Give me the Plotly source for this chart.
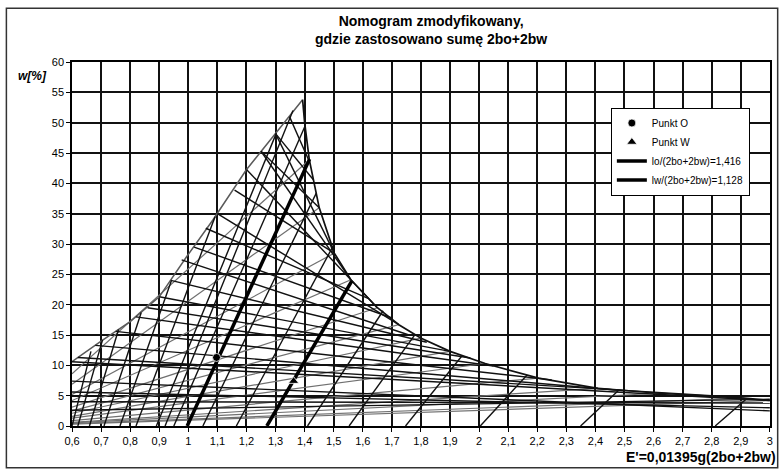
import plotly.graph_objects as go

# ---------------- data ----------------
x_tick_vals = [0.6, 0.7, 0.8, 0.9, 1.0, 1.1, 1.2, 1.3, 1.4, 1.5, 1.6, 1.7, 1.8, 1.9,
               2.0, 2.1, 2.2, 2.3, 2.4, 2.5, 2.6, 2.7, 2.8, 2.9, 3.0]
x_tick_text = ["0,6", "0,7", "0,8", "0,9", "1", "1,1", "1,2", "1,3", "1,4", "1,5", "1,6",
               "1,7", "1,8", "1,9", "2", "2,1", "2,2", "2,3", "2,4", "2,5", "2,6", "2,7",
               "2,8", "2,9", "3"]
y_tick_vals = [0, 5, 10, 15, 20, 25, 30, 35, 40, 45, 50, 55, 60]

# left envelope (grey)
left_env_x = [0.6, 0.7, 0.8, 0.9, 0.994, 1.085, 1.199, 1.302, 1.393]
left_env_y = [10.6, 14.0, 17.2, 21.3, 27.9, 34.0, 42.2, 48.3, 53.8]

# right envelope (black)
right_env_x = [1.393, 1.40, 1.416, 1.45, 1.502, 1.559, 1.65, 1.724, 1.799, 1.9,
               2.021, 2.204, 2.409, 2.62, 2.912, 3.0]
right_env_y = [53.8, 50.0, 43.9, 36.0, 28.5, 24.1, 19.5, 16.7, 14.5, 12.3,
               10.3, 7.9, 6.2, 5.4, 4.6, 4.2]

# steep rising lines (thin black): from bottom to an envelope
steep_x0 = [0.60, 0.62, 0.66, 0.71, 0.765, 0.82, 0.89, 0.92, 0.95, 1.05, 1.165, 1.41, 1.553, 1.747, 2.004, 2.349, 2.812]
steep_y0 = [0, 0, 0, 0, 0, 0, 0, 0, 0, 0, 0, 0, 0, 0, 0, 0, 0]
steep_x1 = [0.665, 0.705, 0.76, 0.838, 0.942, 1.092, 1.302, 1.36, 1.40, 1.44, 1.495, 1.67, 1.78, 1.94, 2.165, 2.48, 2.92]
steep_y1 = [12.3, 14.2, 15.9, 18.7, 24.0, 34.5, 48.2, 52.0, 49.3, 38.4, 29.4, 19.0, 15.1, 11.5, 8.4, 5.9, 4.5]

# falling lines (black): from left envelope / left edge to right envelope / right edge
fall_x0 = [1.348, 1.30, 1.30, 1.25, 1.25, 1.20, 1.159, 1.10, 1.06, 1.02, 0.977, 0.94, 0.90, 0.86,
           0.82, 0.75, 0.68, 0.62, 0.60, 0.60, 0.60, 0.60, 0.60]
fall_y0 = [51.0, 48.2, 48.2, 45.3, 45.3, 42.3, 38.9, 35.0, 32.6, 29.5, 27.4, 24.0, 21.3, 19.5,
           18.0, 15.6, 13.3, 11.3, 10.6, 7.4, 5.6, 4.0, 2.6]
fall_x1 = [1.416, 1.43, 1.502, 1.45, 1.559, 1.65, 1.502, 1.724, 1.62, 1.70, 1.759, 1.82, 1.90, 1.97,
           2.05, 2.25, 2.50, 2.80, 3.0, 3.0, 3.0, 3.0, 3.0]
fall_y1 = [43.6, 40.6, 28.5, 36.0, 24.1, 19.5, 28.5, 16.7, 21.0, 17.8, 15.0, 13.8, 12.3, 11.2,
           9.9, 7.6, 5.8, 5.0, 4.2, 2.5, 3.0, 3.8, 4.4]

# grey rising lines: from left edge to right envelope
grey_x0 = [0.6, 0.6, 0.6, 0.6, 0.6, 0.6, 0.6, 0.6, 0.6, 0.6, 0.6, 0.6, 0.6, 0.6]
grey_y0 = [8.6, 6.9, 5.2, 4.2, 3.1, 2.5, 2.1, 1.6, 1.3, 0.9, 0.6, 0.5, 0.4, 0.3]
grey_x1 = [1.416, 1.45, 1.502, 1.559, 1.65, 1.724, 1.799, 1.9, 2.021, 2.204, 2.409, 2.62, 2.912, 3.0]
grey_y1 = [43.9, 36.0, 28.5, 24.1, 19.5, 16.7, 14.5, 12.3, 10.3, 7.9, 6.2, 5.4, 4.6, 4.2]

# highlighted lines and points
lo_x = [0.996, 1.417]
lo_y = [0.0, 44.0]
lw_x = [1.27, 1.562]
lw_y = [0.0, 23.9]
punkt_o = (1.097, 11.3)
punkt_w = (1.362, 7.4)


def segs(x0, y0, x1, y1):
    xs, ys = [], []
    for a, b, c, d in zip(x0, y0, x1, y1):
        xs += [a, c, None]
        ys += [b, d, None]
    return xs, ys


fig = go.Figure()

gx, gy = segs(grey_x0, grey_y0, grey_x1, grey_y1)
fig.add_trace(go.Scatter(x=gx, y=gy, mode="lines", line=dict(color="#707070", width=1.2),
                         showlegend=False, hoverinfo="skip"))
fig.add_trace(go.Scatter(x=left_env_x, y=left_env_y, mode="lines",
                         line=dict(color="#5a5a5a", width=1.5), showlegend=False, hoverinfo="skip"))
sx, sy = segs(steep_x0, steep_y0, steep_x1, steep_y1)
fig.add_trace(go.Scatter(x=sx, y=sy, mode="lines", line=dict(color="#111111", width=1.4),
                         showlegend=False, hoverinfo="skip"))
fx, fy = segs(fall_x0, fall_y0, fall_x1, fall_y1)
fig.add_trace(go.Scatter(x=fx, y=fy, mode="lines", line=dict(color="#111111", width=1.4),
                         showlegend=False, hoverinfo="skip"))
fig.add_trace(go.Scatter(x=right_env_x, y=right_env_y, mode="lines",
                         line=dict(color="#111111", width=1.7), showlegend=False, hoverinfo="skip"))

fig.add_trace(go.Scatter(x=lo_x, y=lo_y, mode="lines", name="lo/(2bo+2bw)=1,416",
                         line=dict(color="black", width=3.5), legendrank=3))
fig.add_trace(go.Scatter(x=lw_x, y=lw_y, mode="lines", name="lw/(2bo+2bw)=1,128",
                         line=dict(color="black", width=3.5), legendrank=4))
fig.add_trace(go.Scatter(x=[punkt_o[0]], y=[punkt_o[1]], mode="markers", name="Punkt O",
                         marker=dict(symbol="circle", size=8, color="black",
                                     line=dict(color="white", width=0.8)), legendrank=1))
fig.add_trace(go.Scatter(x=[punkt_w[0]], y=[punkt_w[1]], mode="markers", name="Punkt W",
                         marker=dict(symbol="triangle-up", size=9, color="black",
                                     line=dict(color="white", width=0.8)), legendrank=2))

FONT = "Liberation Sans Narrow, Arial Narrow, Liberation Sans, Arial, sans-serif"

fig.update_layout(
    width=783, height=473,
    margin=dict(l=72, r=10, t=62, b=47),
    paper_bgcolor="white", plot_bgcolor="white",
    font=dict(family=FONT, size=11, color="black"),
    showlegend=True,
    legend=dict(x=0.772, y=0.875, xanchor="left", yanchor="top",
                bordercolor="black", borderwidth=1, bgcolor="white",
                font=dict(size=10, family=FONT), tracegroupgap=0, itemwidth=30),
    xaxis=dict(range=[0.5999, 3.0005], tickvals=x_tick_vals, ticktext=x_tick_text,
               showgrid=True, gridcolor="#111111", gridwidth=1.5,
               showline=True, linecolor="black", linewidth=1.5, mirror=True,
               ticks="outside", ticklen=4, tickcolor="black", zeroline=False,
               tickfont=dict(size=11)),
    yaxis=dict(range=[0, 60.01], tickvals=y_tick_vals,
               showgrid=True, gridcolor="#111111", gridwidth=1.5,
               showline=True, linecolor="black", linewidth=1.5, mirror=True,
               ticks="outside", ticklen=4, tickcolor="black", zeroline=False,
               tickfont=dict(size=11)),
    annotations=[
        dict(text="<b>Nomogram zmodyfikowany,<br>gdzie zastosowano sumę 2bo+2bw</b>",
             xref="paper", yref="paper", x=0.514, y=1.14, xanchor="center", yanchor="top",
             showarrow=False, font=dict(size=14, family="Liberation Sans, Arial, sans-serif")),
        dict(text="<b><i>w[%]</i></b>", xref="paper", yref="paper", x=-0.056, y=0.962,
             xanchor="center", yanchor="middle", showarrow=False,
             font=dict(size=12, family="Liberation Sans, Arial, sans-serif")),
        dict(text="<b>E'=0,01395g(2bo+2bw)</b>", xref="paper", yref="paper", x=1.012, y=-0.084,
             xanchor="right", yanchor="middle", showarrow=False,
             font=dict(size=14, family="Liberation Sans, Arial, sans-serif")),
    ],
    shapes=[
        dict(type="rect", xref="paper", yref="paper", x0=-0.094, y0=-0.115, x1=1.011, y1=1.148,
             line=dict(color="#333333", width=1.5), fillcolor="rgba(0,0,0,0)", layer="below"),
    ],
)

fig.write_html("out.html", config={"displayModeBar": False},
               post_script="document.body.style.margin='0';document.body.style.overflow='hidden';")
